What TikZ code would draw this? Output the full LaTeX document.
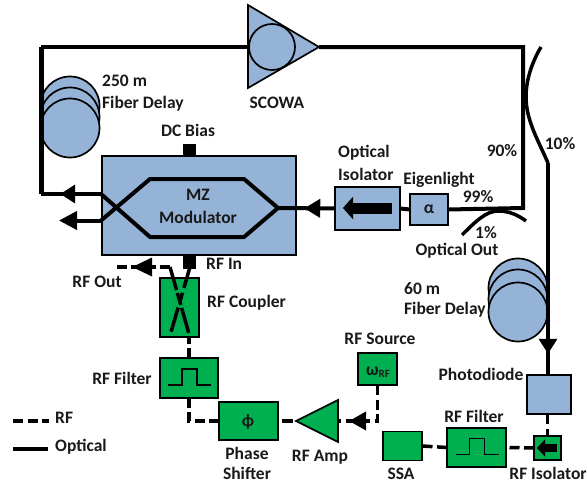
\documentclass[tikz,border=0pt]{standalone}
\usepackage{xcolor}
\usepackage{fontspec}
\setmainfont{Carlito}
\usetikzlibrary{arrows, arrows.meta, decorations.markings}
\definecolor{optblue}{HTML}{95B3D7}
\definecolor{rfgreen}{HTML}{00B050}
\tikzset{
  optical/.style={line width=4pt},
  rf/.style={line width=3.5pt, dash pattern=on 10pt off 4.5pt},
  device/.style={draw, line width=1.7pt, inner sep=0pt, outer sep=0pt},
  bluebox/.style={device, fill=optblue},
  greenbox/.style={device, fill=rfgreen},
  spool/.style={circle, draw, line width=1.7pt, fill=optblue, minimum size=59pt, inner sep=0pt},
  pad/.style={fill=black, inner sep=0pt, minimum width=13pt, minimum height=13pt},
  lbl/.style={font=\bfseries\fontsize{17.5}{18}\selectfont, text=black!90, inner sep=0pt},
  flow/.style n args={2}{postaction={decorate}, decoration={markings,
    mark=at position #1 with {\arrow[solid]{Triangle[length=#2,width=18pt]}}}},
}
\newcommand{\pulse}[1]{\draw[line width=1.7pt] (#1.center) ++(-21,7) -| ++(14,-16) -| ++(15,16) -- ++(14,0);}

\begin{document}
\begin{tikzpicture}[x=1pt,y=-1pt]
\useasboundingbox (0,0) rectangle (587,482);

% optical spools
\foreach \y/\n in {106/a,117/b,128/c} \node[spool] (long\n) at (70,\y) {};
\foreach \y/\n in {288/a,299/b,312/c} \node[spool] (short\n) at (518,\y) {};

\coordinate (topleft) at (41,47);
\coordinate (botleft) at (41,194);
\coordinate (topright) at (523,47);
\coordinate (lowright) at (523,208);
\coordinate (split) at (548,163);
\coordinate (outa) at (101,194);
\coordinate (outb) at (101,220.5);
\coordinate (outbend) at (59,220.5);
\coordinate (mzin) at (278,208);
\coordinate (tapa) at (541,47);
\coordinate (tapb) at (462,235);
\coordinate (tapc) at (526,221);

% blue parts
\node[bluebox, minimum width=194pt, minimum height=99pt] (mod) at (199,205.5) {};
\node[pad] (bias) at (189.5,150) {};
\node[pad] (rfin) at (189.5,262) {};
\node[bluebox, minimum width=65pt, minimum height=43pt] (iso) at (367.5,208.5) {};
\node[bluebox, minimum width=38pt, minimum height=31pt] (eigen) at (429,209.5) {};
\node[bluebox, minimum width=44pt, minimum height=39pt] (pd) at (549,394.5) {};

\draw[bluebox] (248,5) -- (319,47) -- (248,88) -- cycle;
\coordinate (ampin) at (248,47);
\coordinate (ampout) at (319,47);
\node[spool, minimum size=46pt] (gain) at (272,47) {};

% green parts
\node[greenbox, minimum width=39pt, minimum height=59pt] (coup) at (179.5,307.5) {};
\node[greenbox, minimum width=58pt, minimum height=40pt] (filta) at (189,378) {};
\node[greenbox, minimum width=59pt, minimum height=38pt] (phase) at (248.5,421) {};
\node[greenbox, minimum width=39pt, minimum height=32pt] (src) at (377.5,369) {};
\node[greenbox, minimum width=39pt, minimum height=29pt] (ssa) at (402.5,446) {};
\node[greenbox, minimum width=59pt, minimum height=39pt] (filtb) at (476.5,447.5) {};
\node[greenbox, minimum width=27pt, minimum height=24pt] (rfiso) at (547.5,448) {};
\draw[greenbox] (338,400) -- (338,442) -- (296,421) -- cycle;
\coordinate (rfamp) at (338,421);
\coordinate (rfampin) at (296,421);

% optical loop
\draw[optical] (iso.east) -- (eigen.west);
\draw[optical] (eigen.east) -- (lowright) -- (topright) -- (ampout);
\draw[optical, flow={0.54}{16pt}] (iso.west) -- (mzin);
\draw[optical] (ampin) -- (topleft);
\draw[line width=5pt] (topleft) -- (botleft);
\draw[optical, flow={0.68}{15pt}] (outa) -- (botleft);
\draw[optical, -{Triangle[length=18pt,width=18pt]}] (outb) -- (outbend);
\draw[line width=3.5pt] (tapa) .. controls (532,62) and (526,80) .. (526,97)
  .. controls (526,120) and (538,140) .. (split);
\draw[line width=3.5pt, flow={0.9}{15pt}] (split) -- (pd.north -| split);
\draw[line width=3.5pt] (tapb) .. controls (475,222) and (486,211) .. (498,211)
  .. controls (509,211) and (518,215) .. (tapc);

% mz arms
\draw[optical, line join=round] (outa) -- (150,237) -- (244,237) -- (mzin) -- (244,179) -- (150,179) -- (outb);

% rf path
\draw[rf] (pd.south -| rfiso) -- (rfiso.north);
\draw[rf] (rfiso.west) -- (filtb.east);
\draw[rf] (filtb.west) -- (ssa.east);
\draw[rf, flow={0.854}{17pt}] (src.south) -- (377.5,421) -- (rfamp);
\draw[rf, dash pattern=on 0pt off 4pt on 11pt off 4pt] (phase.east) -- (rfampin);
\draw[rf] (phase.west) -- (189,421) -- (filta.south);
\draw[rf] (filta.north) -- (coup.south -| filta);
\draw[rf, dash pattern=on 20pt off 5pt on 10.5pt off 5pt on 25pt off 5pt] (rfin.south) -- (171,332);
\draw[rf, dash pattern=on 24pt off 3pt on 12.5pt off 3pt on 26pt off 5pt] (170,267) -- (189,334);
\draw[rf, flow={0.69}{20pt}] (170,267) -- (115,267);
\pulse{filta}
\pulse{filtb}
\draw[line width=11pt, -{Triangle[length=10pt,width=22pt]}] (392,208) -- (343,208);
\draw[line width=8pt, -{Triangle[length=8pt,width=17pt]}] (557,448) -- (537,448);

% legend
\coordinate (rfkeya) at (13,421);
\coordinate (rfkeyb) at (49,421);
\coordinate (optkeya) at (13,449);
\coordinate (optkeyb) at (48,449);
\draw[rf, line width=3.5pt] (rfkeya) -- (rfkeyb);
\draw[optical] (optkeya) -- (optkeyb);

% labels
\begin{scope}[every node/.style={lbl}]
\node[anchor=west] (lblong) at (102,81) {250 m};
\node[anchor=west] (lblongb) at (102,104) {Fiber Delay};
\node (lbamp) at (277,103) {SCOWA};
\node (lbbias) at (188,130) {DC Bias};
\node (lbmz) at (198,195) {MZ};
\node (lbmod) at (198,217) {Modulator};
\node[anchor=west] (lbopt) at (338,153) {Optical};
\node[anchor=west] (lbiso) at (338,174) {Isolator};
\node (lbeigen) at (439,180) {Eigenlight};
\node (lbalpha) at (429,209) {α};
\node (lbninenine) at (478,197) {99\%};
\node (lbninety) at (502,151) {90\%};
\node (lbten) at (560,144) {10\%};
\node (lbone) at (486,232.5) {1\%};
\node (lbout) at (457,251) {Optical Out};
\node[anchor=west] (lbshort) at (404,289) {60 m};
\node[anchor=west] (lbshortb) at (404,310) {Fiber Delay};
\node (lbsrc) at (380,339) {RF Source};
\node (lbomega) at (378,372) {ω\raisebox{-2pt}{\fontsize{11}{11}\selectfont RF}};
\node (lbpd) at (481,374) {Photodiode};
\node (lbfiltb) at (474,416) {RF Filter};
\node (lbssa) at (401,473.5) {SSA};
\node (lbrfiso) at (548,473) {RF Isolator};
\node (lbrfamp) at (320,457) {RF Amp};
\node (lbphi) at (248,422) {ϕ};
\node (lbphase) at (247,453) {Phase};
\node (lbshift) at (247,473) {Shifter};
\node[anchor=west] (lbrfin) at (206,264) {RF In};
\node (lbrfout) at (97,282) {RF Out};
\node[anchor=west] (lbcoup) at (207,303) {RF Coupler};
\node (lbfilta) at (122,378) {RF Filter};
\node[anchor=west] (lbkeyrf) at (55,418) {RF};
\node[anchor=west] (lbkeyopt) at (55,447) {Optical};
\end{scope}

\end{tikzpicture}
\end{document}
